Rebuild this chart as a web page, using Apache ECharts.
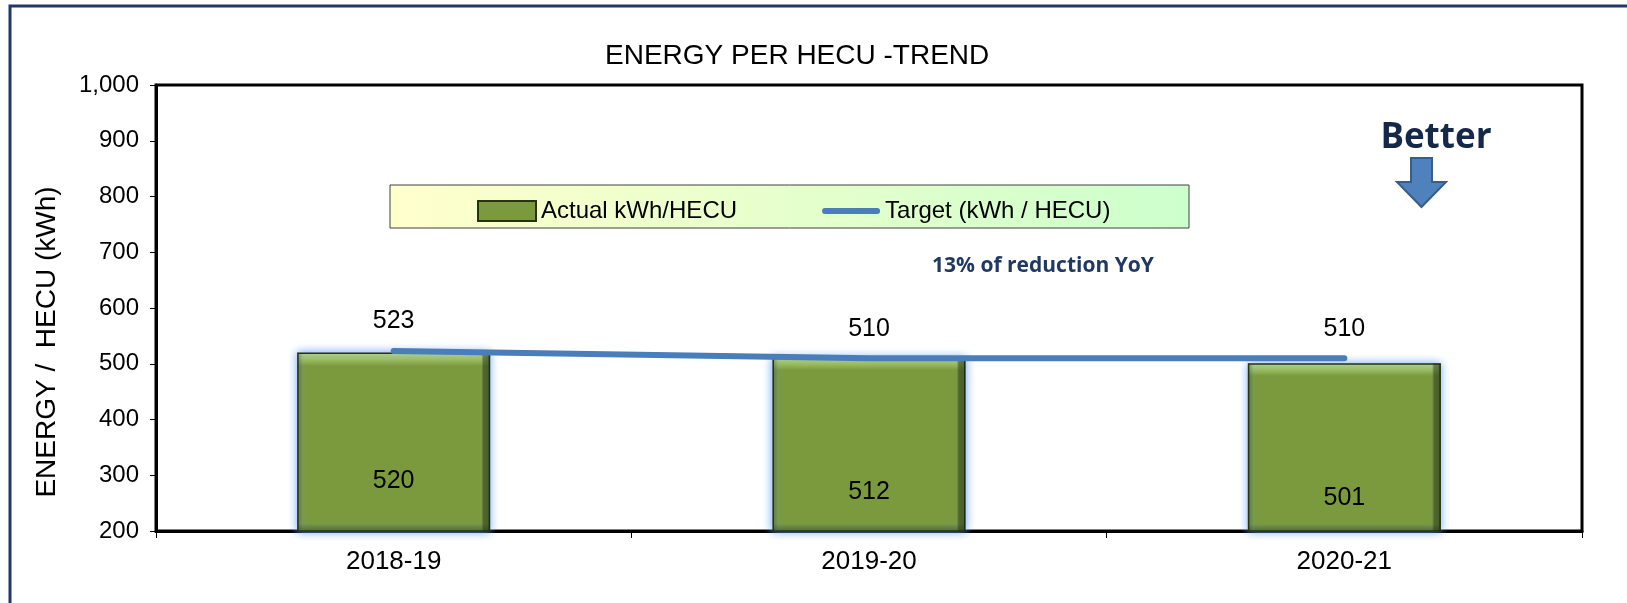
<!DOCTYPE html>
<html>
<head>
<meta charset="utf-8">
<script src="https://cdn.jsdelivr.net/npm/echarts@6/dist/echarts.min.js"></script>
<style>
  html, body { margin: 0; padding: 0; background: #fff; }
  #chart { width: 1627px; height: 603px; }
</style>
</head>
<body>
<div id="chart"></div>
<script>
// data
var years = ['2018-19', '2019-20', '2020-21'];
var actual = [520, 512, 501];
var target = [523, 510, 510];
var yTicks = [200, 300, 400, 500, 600, 700, 800, 900, 1000];

// inner bar labels sit at slightly different heights in the original
var innerLabelLift = [37, 26, 20];

var chart = echarts.init(document.getElementById('chart'));

var barFill = new echarts.graphic.LinearGradient(0, 0, 0, 1, [
  { offset: 0, color: '#bcd985' },
  { offset: 0.04, color: '#9dbd5b' },
  { offset: 0.075, color: '#7b9a3e' },
  { offset: 0.955, color: '#7b9a3e' },
  { offset: 1, color: '#4a5e22' }
]);

// side bevel, laid over the bars
var sideBevel = new echarts.graphic.LinearGradient(0, 0, 1, 0, [
  { offset: 0, color: 'rgba(40,55,15,0.35)' },
  { offset: 0.03, color: 'rgba(40,55,15,0)' },
  { offset: 0.955, color: 'rgba(30,40,10,0)' },
  { offset: 0.965, color: 'rgba(30,40,10,0.45)' },
  { offset: 1, color: 'rgba(30,40,10,0.55)' }
]);

var option = {
  animation: false,
  textStyle: { fontFamily: 'Liberation Sans, Arial, sans-serif', color: '#000' },
  title: {
    text: 'ENERGY PER HECU -TREND',
    left: 600,
    top: 37,
    textStyle: { fontSize: 28, fontWeight: 'normal', color: '#000', fontFamily: 'Liberation Sans' }
  },
  grid: {
    left: 156, top: 85, width: 1426, height: 446,
    show: true, borderColor: '#000', borderWidth: 3, backgroundColor: 'transparent'
  },
  legend: {
    left: 472, top: 194,
    itemGap: 85,
    itemWidth: 58, itemHeight: 20,
    textStyle: { fontSize: 24, color: '#000', fontFamily: 'Liberation Sans' },
    data: [
      { name: 'Actual kWh/HECU', icon: 'rect' },
      { name: 'Target (kWh / HECU)', icon: 'path://M3,0h54a3,3 0 0 1 0,6h-54a3,3 0 0 1 0,-6z' }
    ]
  },
  xAxis: {
    type: 'category',
    data: years,
    boundaryGap: true,
    axisLine: { lineStyle: { color: '#000', width: 3 } },
    axisTick: { show: true, length: 7, lineStyle: { color: '#000', width: 1 } },
    axisLabel: { fontSize: 26, color: '#000', margin: 18 }
  },
  yAxis: {
    type: 'value',
    min: yTicks[0],
    max: yTicks[yTicks.length - 1],
    interval: 100,
    splitLine: { show: false },
    axisLine: { show: true, lineStyle: { color: '#000', width: 3 } },
    axisTick: { show: true, length: 6, lineStyle: { color: '#000', width: 1 } },
    axisLabel: {
      fontSize: 24, color: '#000', margin: 17,
      formatter: function (v) { return v.toLocaleString('en-US'); }
    }
  },
  series: [
    {
      name: 'Actual kWh/HECU',
      type: 'bar',
      barWidth: 193,
      data: actual,
      itemStyle: {
        color: barFill,
        borderColor: '#26330f',
        borderWidth: 1.5,
        shadowColor: 'rgba(100,160,255,1)',
        shadowBlur: 9
      },
      z: 2
    },
    {
      name: 'bevel',
      type: 'bar',
      barWidth: 193,
      barGap: '-100%',
      data: actual.map(function (v, i) {
        return { value: v, label: { distance: innerLabelLift[i] } };
      }),
      itemStyle: { color: sideBevel },
      label: {
        show: true,
        position: 'insideBottom',
        fontSize: 25,
        color: '#000'
      },
      silent: true,
      z: 2
    },
    {
      name: 'Target (kWh / HECU)',
      type: 'line',
      data: target,
      symbol: 'circle',
      symbolSize: 0,
      lineStyle: { color: '#4a7ebb', width: 6, cap: 'round' },
      itemStyle: { color: '#4a7ebb' },
      label: {
        show: true,
        position: 'top',
        distance: 17,
        fontSize: 25,
        color: '#000'
      },
      z: 3
    }
  ],
  graphic: [
    {
      type: 'rect',
      shape: { x: 10, y: 6, width: 1660, height: 660 },
      style: { fill: 'none', stroke: '#1f3864', lineWidth: 3 },
      silent: true,
      z: 0
    },
    {
      type: 'rect',
      shape: { x: 390, y: 185, width: 799, height: 43 },
      style: {
        fill: new echarts.graphic.LinearGradient(0, 0, 1, 0, [
          { offset: 0, color: '#ffffcc' },
          { offset: 1, color: '#ccffcc' }
        ]),
        stroke: '#404040',
        lineWidth: 1
      },
      silent: true,
      z: 1
    },
    {
      type: 'text',
      x: 47, y: 342,
      rotation: Math.PI / 2,
      style: {
        text: 'ENERGY /  HECU (kWh)',
        fill: '#000',
        font: '28px "Liberation Sans", Arial, sans-serif',
        align: 'center',
        verticalAlign: 'middle'
      },
      z: 10
    },
    {
      type: 'text',
      x: 1043, y: 266,
      style: {
        text: '13% of reduction YoY',
        fill: '#1f3864',
        font: 'bold 21px "Open Sans", sans-serif',
        align: 'center',
        verticalAlign: 'middle'
      },
      z: 10
    },
    {
      type: 'text',
      x: 1436, y: 138,
      style: {
        text: 'Better',
        fill: '#14284a',
        font: 'bold 35px "Open Sans", sans-serif',
        align: 'center',
        verticalAlign: 'middle'
      },
      z: 10
    },
    {
      type: 'polygon',
      shape: {
        points: [[1411, 158], [1432, 158], [1432, 182], [1446, 182], [1421.5, 207], [1397, 182], [1411, 182]]
      },
      style: { fill: '#4f81bd', stroke: '#385d8a', lineWidth: 2 },
      z: 10
    }
  ]
};

chart.setOption(option);
</script>
</body>
</html>
